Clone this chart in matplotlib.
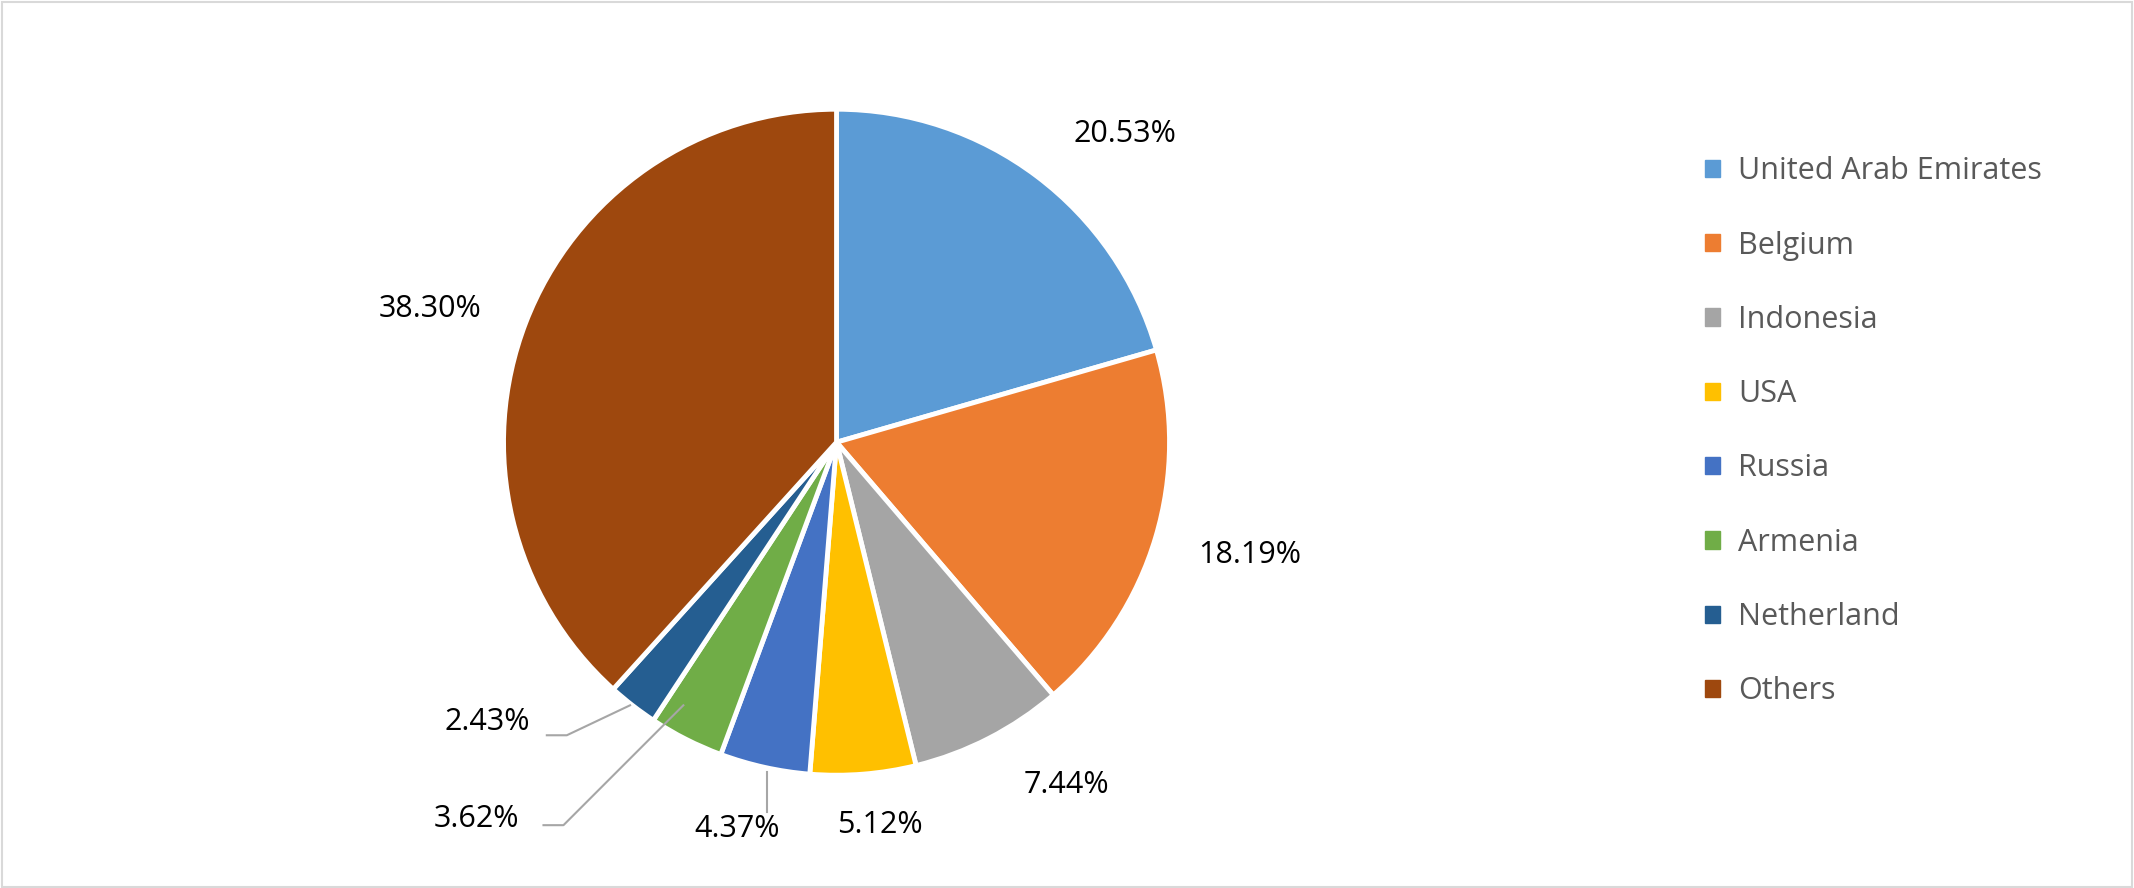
import matplotlib.pyplot as plt
import numpy as np
from matplotlib.patches import Rectangle

countries = ["United Arab Emirates", "Belgium", "Indonesia", "USA", "Russia", "Armenia", "Netherland", "Others"]
shares = [20.53, 18.19, 7.44, 5.12, 4.37, 3.62, 2.43, 38.30]
colors = ["#5B9BD5", "#ED7D31", "#A5A5A5", "#FFC000", "#4472C4", "#70AD47", "#255E91", "#9E480E"]

plt.rcParams['font.family'] = ['Open Sans', 'DejaVu Sans']
fig = plt.figure(figsize=(21.34, 8.88), dpi=100)
fig.patches.append(Rectangle((0.001, 0.001), 0.998, 0.997, transform=fig.transFigure,
                             fill=False, edgecolor="#D9D9D9", lw=1.5))
w, h = 666/2134, 666/888
ax = fig.add_axes([0.392 - w/2, 0.502 - h/2, w, h])
wedges, _ = ax.pie(shares, colors=colors, startangle=90, counterclock=False,
                   wedgeprops=dict(edgecolor="white", linewidth=3.5))
ax.set_xlim(-1, 1); ax.set_ylim(-1, 1); ax.set_aspect('equal'); ax.axis('off')

label_pos = [(0.865, 0.927), (1.24, -0.34), (0.69, -1.03), (0.13, -1.15),
             (-0.30, -1.16), (-1.08, -1.13), (-1.05, -0.84), (-1.22, 0.40)]
for s, (x, y) in zip(shares, label_pos):
    ax.text(x, y, f"{s:.2f}%", ha='center', va='center', fontsize=22, color='black', clip_on=False)

leaders = {4: [(-0.21, -1.11), (-0.21, -0.99)],
           5: [(-0.88, -1.15), (-0.82, -1.15), (-0.46, -0.79)],
           6: [(-0.87, -0.88), (-0.81, -0.88), (-0.62, -0.79)]}
for i, pts in leaders.items():
    xs, ys = zip(*pts)
    ax.plot(xs, ys, color="#A6A6A6", lw=1.5, clip_on=False)

handles = [plt.Rectangle((0, 0), 1, 1, color=c) for c in colors]
fig.legend(handles, countries, loc='upper left', bbox_to_anchor=(0.786, 0.855),
           frameon=False, fontsize=22, handlelength=0.5, handleheight=0.5,
           handletextpad=0.6, labelspacing=1.45, labelcolor="#595959")
fig.savefig("out.png", dpi=100)
